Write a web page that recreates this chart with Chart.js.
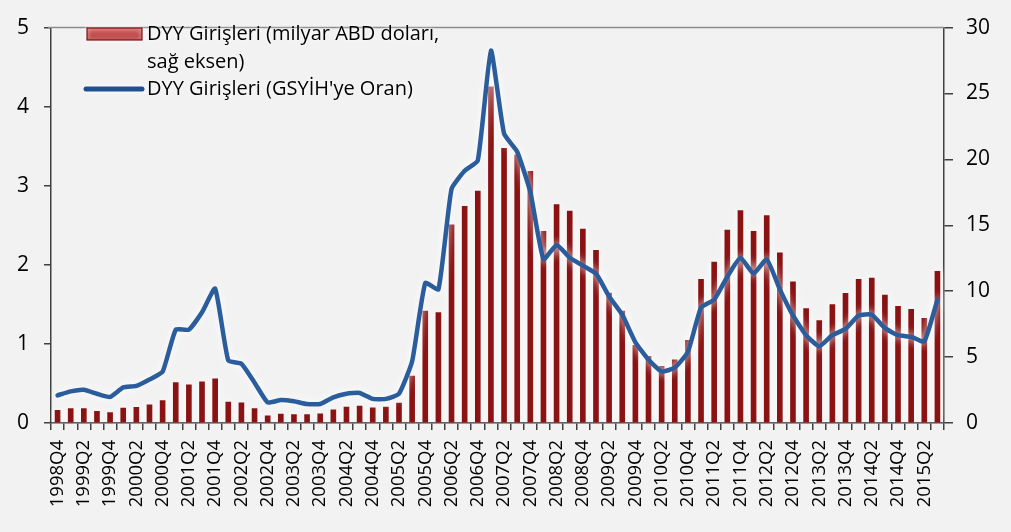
<!DOCTYPE html>
<html>
<head>
<meta charset="utf-8">
<script src="https://cdn.jsdelivr.net/npm/chart.js@4.4.0/dist/chart.umd.min.js"></script>
<style>
  html, body { margin: 0; padding: 0; background: #f2f2f2; }
  #wrap { position: relative; width: 1011px; height: 532px; }
</style>
</head>
<body>
<div id="wrap"><canvas id="dyyChart" width="1011" height="532"></canvas></div>
<script>
// ceyrekler (kategori)
var quarters = [
    "1998Q4", "1999Q1", "1999Q2", "1999Q3", "1999Q4", "2000Q1", "2000Q2", "2000Q3",
    "2000Q4", "2001Q1", "2001Q2", "2001Q3", "2001Q4", "2002Q1", "2002Q2", "2002Q3",
    "2002Q4", "2003Q1", "2003Q2", "2003Q3", "2003Q4", "2004Q1", "2004Q2", "2004Q3",
    "2004Q4", "2005Q1", "2005Q2", "2005Q3", "2005Q4", "2006Q1", "2006Q2", "2006Q3",
    "2006Q4", "2007Q1", "2007Q2", "2007Q3", "2007Q4", "2008Q1", "2008Q2", "2008Q3",
    "2008Q4", "2009Q1", "2009Q2", "2009Q3", "2009Q4", "2010Q1", "2010Q2", "2010Q3",
    "2010Q4", "2011Q1", "2011Q2", "2011Q3", "2011Q4", "2012Q1", "2012Q2", "2012Q3",
    "2012Q4", "2013Q1", "2013Q2", "2013Q3", "2013Q4", "2014Q1", "2014Q2", "2014Q3",
    "2014Q4", "2015Q1", "2015Q2", "2015Q3"
];

// DYY girisleri, milyar ABD dolari (sag eksen)
var inflowsBn = [
    0.96, 1.09, 1.09, 0.89, 0.79, 1.14, 1.19, 1.38,
    1.70, 3.06, 2.89, 3.13, 3.36, 1.58, 1.53, 1.09,
    0.54, 0.67, 0.64, 0.64, 0.69, 0.99, 1.21, 1.28,
    1.16, 1.21, 1.51, 3.56, 8.49, 8.37, 15.04, 16.44,
    17.6, 25.5, 20.84, 20.35, 19.1, 14.54, 16.57, 16.07,
    14.72, 13.1, 9.85, 8.49, 5.9, 5.05, 4.3, 4.79,
    6.27, 10.91, 12.2, 14.64, 16.12, 14.54, 15.73, 12.91,
    10.72, 8.69, 7.78, 8.99, 9.83, 10.91, 10.99, 9.70,
    8.86, 8.62, 7.95, 11.5
];

// DYY girisleri, GSYIH'ye oran (sol eksen)
var ratioGdp = [
    0.35, 0.40, 0.42, 0.37, 0.33, 0.45, 0.47, 0.55,
    0.65, 1.18, 1.18, 1.40, 1.70, 0.79, 0.75, 0.51,
    0.26, 0.29, 0.275, 0.24, 0.24, 0.325, 0.37, 0.38,
    0.305, 0.305, 0.37, 0.78, 1.77, 1.69, 2.96, 3.19,
    3.32, 4.71, 3.66, 3.43, 2.92, 2.07, 2.25, 2.09,
    1.99, 1.89, 1.60, 1.37, 1.02, 0.80, 0.65, 0.70,
    0.90, 1.46, 1.56, 1.85, 2.09, 1.89, 2.07, 1.69,
    1.36, 1.11, 0.97, 1.11, 1.19, 1.36, 1.37, 1.20,
    1.11, 1.09, 1.03, 1.56
];

var leftTicks = [0, 1, 2, 3, 4, 5];
var rightTicks = [0, 5, 10, 15, 20, 25, 30];

var barLabel = ["DYY Girişleri (milyar ABD doları,", "sağ eksen)"];
var lineLabel = "DYY Girişleri (GSYİH'ye Oran)";

var axisColor = "#404040";
var barColor = "#8a1212";
var lineColor = "#2b5d9c";
var fontFam = "'Open Sans', 'DejaVu Sans', sans-serif";

// beyaz parlama efekti (grafikteki gibi)
var glowPlugin = {
    id: "glow",
    beforeDatasetsDraw: function (chart) {
        var ctx = chart.ctx;
        ctx.save();
        ctx.shadowColor = "rgba(255,255,255,1)";
        ctx.shadowBlur = 9;
    },
    afterDatasetsDraw: function (chart) {
        chart.ctx.restore();
    }
};

// ust cizgi ve lejant
var frameLegendPlugin = {
    id: "frameLegend",
    afterDraw: function (chart) {
        var ctx = chart.ctx;
        var area = chart.chartArea;
        ctx.save();
        ctx.strokeStyle = "#8c8c8c";
        ctx.lineWidth = 1.5;
        ctx.beginPath();
        ctx.moveTo(area.left - 3, area.top);
        ctx.lineTo(area.right, area.top);
        ctx.stroke();

        ctx.shadowColor = "#ffffff";
        ctx.shadowBlur = 4;

        // bar ornegi
        var grad = ctx.createLinearGradient(0, 28, 0, 40);
        grad.addColorStop(0, "#d46464");
        grad.addColorStop(1, "#b23c3c");
        ctx.fillStyle = grad;
        ctx.fillRect(87, 28, 55, 12);
        ctx.strokeStyle = "#7a1010";
        ctx.lineWidth = 1.2;
        ctx.strokeRect(87, 28, 55, 12);

        // cizgi ornegi
        ctx.strokeStyle = "#1f4f8f";
        ctx.lineWidth = 5;
        ctx.lineCap = "round";
        ctx.beginPath();
        ctx.moveTo(86, 89);
        ctx.lineTo(142, 89);
        ctx.stroke();

        ctx.fillStyle = "#000";
        ctx.font = "20px " + fontFam;
        ctx.textBaseline = "middle";
        ctx.textAlign = "left";
        ctx.fillText(barLabel[0], 147, 34);
        ctx.fillText(barLabel[1], 147, 62);
        ctx.fillText(lineLabel, 147, 89);
        ctx.restore();
    }
};

var ctx = document.getElementById("dyyChart").getContext("2d");

new Chart(ctx, {
    type: "bar",
    data: {
        labels: quarters,
        datasets: [{
            type: "line",
            label: lineLabel,
            data: ratioGdp,
            yAxisID: "y",
            borderColor: lineColor,
            borderWidth: 4.5,
            borderJoinStyle: "round",
            borderCapStyle: "round",
            pointRadius: 0,
            tension: 0.15,
            fill: false
        }, {
            type: "bar",
            label: barLabel.join(" "),
            data: inflowsBn,
            yAxisID: "y1",
            backgroundColor: barColor,
            borderWidth: 0,
            barThickness: 5
        }]
    },
    options: {
        responsive: false,
        animation: false,
        devicePixelRatio: 1,
        layout: { padding: { top: 18, left: 0, right: 0, bottom: 0 } },
        plugins: {
            legend: { display: false },
            tooltip: { enabled: false }
        },
        scales: {
            x: {
                offset: true,
                grid: {
                    display: true,
                    offset: true,
                    drawOnChartArea: false,
                    drawTicks: true,
                    tickLength: 7,
                    color: axisColor,
                    lineWidth: 1.5
                },
                border: { display: true, color: axisColor, width: 1.5 },
                ticks: {
                    autoSkip: false,
                    minRotation: 90,
                    maxRotation: 90,
                    padding: 10,
                    color: "#000",
                    font: { family: fontFam, size: 18.5 },
                    callback: function (value, index) {
                        return index % 2 === 0 ? quarters[index] : "";
                    }
                },
                afterFit: function (scale) { scale.height = 109; }
            },
            y: {
                position: "left",
                min: 0,
                max: 5,
                afterBuildTicks: function (scale) {
                    scale.ticks = leftTicks.map(function (v) { return { value: v }; });
                },
                grid: {
                    drawOnChartArea: false,
                    drawTicks: true,
                    tickLength: 7,
                    color: axisColor,
                    lineWidth: 1.5
                },
                border: { display: true, color: axisColor, width: 1.5 },
                ticks: {
                    padding: 15,
                    color: "#000",
                    font: { family: fontFam, size: 21 }
                },
                afterFit: function (scale) { scale.width = 51; }
            },
            y1: {
                position: "right",
                min: 0,
                max: 30,
                afterBuildTicks: function (scale) {
                    scale.ticks = rightTicks.map(function (v) { return { value: v }; });
                },
                grid: {
                    drawOnChartArea: false,
                    drawTicks: true,
                    tickLength: 9,
                    color: axisColor,
                    lineWidth: 1.5
                },
                border: { display: true, color: axisColor, width: 1.5 },
                ticks: {
                    padding: 13,
                    color: "#000",
                    font: { family: fontFam, size: 21 }
                },
                afterFit: function (scale) { scale.width = 67; }
            }
        }
    },
    plugins: [glowPlugin, frameLegendPlugin]
});
</script>
</body>
</html>
